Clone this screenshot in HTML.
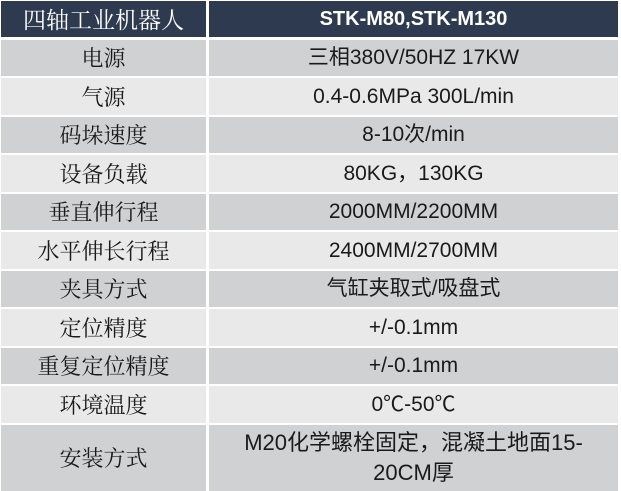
<!DOCTYPE html>
<html><head><meta charset="utf-8"><style>
body{margin:0;background:#fff;width:621px;height:491px;overflow:hidden;position:relative;font-family:"Liberation Sans","Noto Sans CJK SC",sans-serif;}
.c{position:absolute;display:flex;align-items:center;justify-content:center;text-align:center;color:#1a1a1a;font-size:21px;line-height:30px;}
.l{left:1px;width:205px;font-family:"Noto Serif CJK SC","Noto Sans CJK SC",serif;font-size:22px;}
.r{left:209px;width:409px;}
.h{background:#2e3a50;color:#fff;}
.d{background:#d0d1d3;}
.w{background:#e9e9ea;}
</style></head><body>
<div class="c l h" style="top:1px;height:36px;font-size:23px">四轴工业机器人</div><div class="c r h" style="top:1px;height:36px;font-weight:bold;font-size:20px">STK-M80,STK-M130</div>
<div class="c l d" style="top:40px;height:36px">电源</div><div class="c r d" style="top:40px;height:36px">三相380V/50HZ 17KW</div>
<div class="c l w" style="top:78px;height:37px">气源</div><div class="c r w" style="top:78px;height:37px">0.4-0.6MPa 300L/min</div>
<div class="c l d" style="top:117px;height:36px">码垛速度</div><div class="c r d" style="top:117px;height:36px">8-10次/min</div>
<div class="c l w" style="top:155px;height:37px">设备负载</div><div class="c r w" style="top:155px;height:37px">80KG，130KG</div>
<div class="c l d" style="top:194px;height:36px">垂直伸行程</div><div class="c r d" style="top:194px;height:36px">2000MM/2200MM</div>
<div class="c l w" style="top:232px;height:37px">水平伸长行程</div><div class="c r w" style="top:232px;height:37px">2400MM/2700MM</div>
<div class="c l d" style="top:271px;height:36px">夹具方式</div><div class="c r d" style="top:271px;height:36px">气缸夹取式/吸盘式</div>
<div class="c l w" style="top:309px;height:37px">定位精度</div><div class="c r w" style="top:309px;height:37px">+/-0.1mm</div>
<div class="c l d" style="top:348px;height:36px">重复定位精度</div><div class="c r d" style="top:348px;height:36px">+/-0.1mm</div>
<div class="c l w" style="top:386px;height:37px">环境温度</div><div class="c r w" style="top:386px;height:37px">0℃-50℃</div>
<div class="c l d" style="top:425px;height:66px">安装方式</div><div class="c r d" style="top:425px;height:66px;font-size:22px">M20化学螺栓固定，混凝土地面15-<br>20CM厚</div>
</body></html>
